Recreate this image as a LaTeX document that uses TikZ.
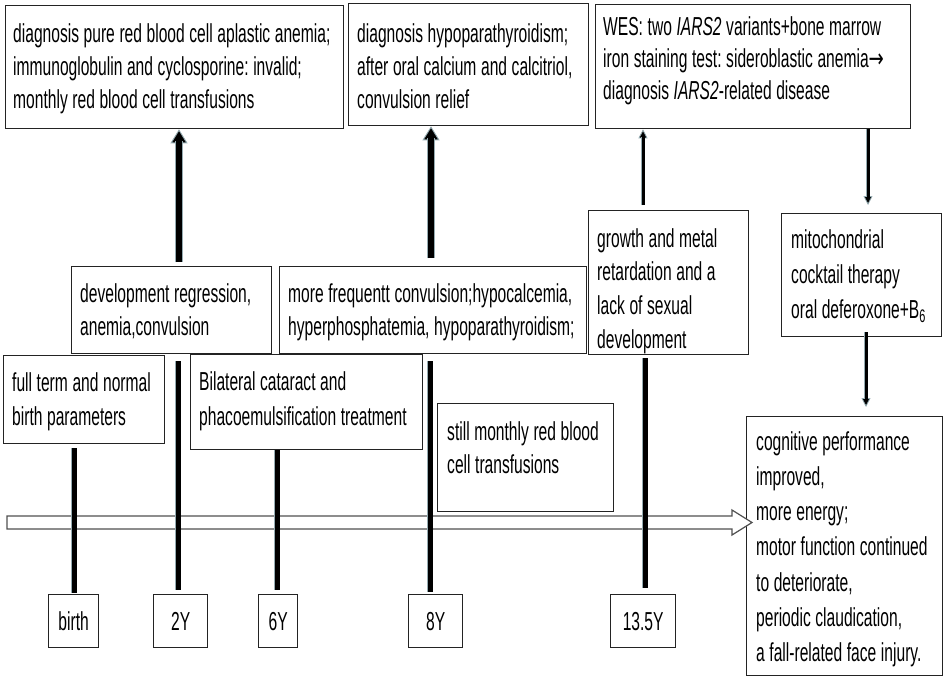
\documentclass[tikz,border=0pt]{standalone}
\usepackage{fontspec}
\setmainfont[FakeStretch=0.6]{Liberation Sans}
\newfontfamily\arrowfont[FakeStretch=0.7]{DejaVu Sans}
\newcommand\bodyfont[1]{\fontsize{26}{#1}\selectfont}
\newcommand\tightsp{\frenchspacing\spaceskip=4.6pt plus 1pt minus 0.5pt\xspaceskip=4.6pt plus 1pt minus 0.5pt\relax}
\usetikzlibrary{arrows.meta}
\definecolor{fringe}{RGB}{150,172,178}
\definecolor{edge}{RGB}{35,35,35}
\definecolor{tline}{RGB}{80,80,80}
\begin{document}
\begin{tikzpicture}[x=1pt,y=-1pt,
  box/.style={draw=edge, line width=1.3pt, inner sep=0pt, anchor=north west},
  yearbox/.style={draw=edge, line width=1.3pt, inner sep=0pt, anchor=north west,
    minimum height=53pt, font=\bodyfont{30pt}},
  txt/.style={anchor=base west, inner sep=0pt, text width=420pt, align=left,
    font=\bodyfont{#1}, execute at begin node=\tightsp},
  txt/.default=33pt,
  bigtip/.style={draw=fringe, line width=0.9pt, -{Triangle[width=17pt,length=14pt,fill=black]}},
  bigshaft/.style={draw=fringe, double=black, double distance=6pt, line width=0.9pt},
  smalltip/.style={draw=fringe, line width=0.8pt, -{Triangle[width=9pt,length=9pt,fill=black]}},
  smallshaft/.style={draw=fringe, double=black, double distance=3pt, line width=0.9pt},
  bar/.style={draw=fringe, double=black, double distance=5pt, line width=0.9pt}]
\useasboundingbox (0,0) rectangle (945,678);

% boxes
\node[box, minimum width=338pt, minimum height=123pt] (A) at (5,5) {};
\node[box, minimum width=240pt, minimum height=122pt] (B) at (348,3) {};
\node[box, minimum width=315pt, minimum height=124pt] (C) at (595,4) {};
\node[box, minimum width=200pt, minimum height=87pt] (D) at (71,266) {};
\node[box, minimum width=307pt, minimum height=87pt] (E) at (279,266) {};
\node[box, minimum width=160pt, minimum height=144pt] (F) at (588,210) {};
\node[box, minimum width=160pt, minimum height=123pt] (G) at (781,213) {};
\node[box, minimum width=161pt, minimum height=88pt] (H) at (3,355) {};
\node[box, minimum width=232pt, minimum height=95pt] (I) at (190,354) {};
\node[box, minimum width=176pt, minimum height=108pt] (J) at (437,403) {};
\node[box, minimum width=196pt, minimum height=259pt] (K) at (746,416) {};

% texts
\node[txt] (At) at (13,42) {\tightsp diagnosis pure red blood cell aplastic anemia;\\immunoglobulin and cyclosporine: invalid;\\monthly red blood cell transfusions};
\node[txt] (Bt) at (357,42) {\tightsp diagnosis hypoparathyroidism;\\after oral calcium and calcitriol,\\convulsion relief};
\node[txt=32pt] (Ct) at (603,35) {\tightsp WES: two \textit{IARS2} variants+bone marrow\\iron staining test: sideroblastic anemia{\arrowfont →}\\diagnosis \textit{IARS2}-related disease};
\node[txt] (Dt) at (80,302) {\tightsp development regression,\\anemia,convulsion};
\node[txt] (Et) at (288,302) {\tightsp more frequentt convulsion;hypocalcemia,\\hyperphosphatemia, hypoparathyroidism;};
\node[txt=33.7pt] (Ft) at (597,247) {\tightsp growth and metal\\retardation and a\\lack of sexual\\development};
\node[txt=35pt] (Gt) at (791,248) {\tightsp mitochondrial\\cocktail therapy\\oral deferoxone+B\textsubscript{6}};
\node[txt=34pt] (Ht) at (12,391) {\tightsp full term and normal\\birth parameters};
\node[txt=35pt] (It) at (199,390) {\tightsp Bilateral cataract and\\phacoemulsification treatment};
\node[txt] (Jt) at (447,440) {\tightsp still monthly red blood\\cell transfusions};
\node[txt=35.3pt] (Kt) at (756,450) {\tightsp cognitive performance\\improved,\\more energy;\\motor function continued\\to deteriorate,\\periodic claudication,\\a fall-related face injury.};

% year boxes
\node[yearbox, minimum width=50pt] (yb) at (48,594) {birth};
\node[yearbox, minimum width=54pt] (y2) at (153,594) {2Y};
\node[yearbox, minimum width=39pt] (y6) at (258,594) {6Y};
\node[yearbox, minimum width=54pt] (y8) at (408,594) {8Y};
\node[yearbox, minimum width=65pt] (y13) at (610,594) {13.5Y};

% column coordinates
\coordinate (cA) at (179,0);
\coordinate (cB) at (431,0);
\coordinate (cC) at (643,0);
\coordinate (cG) at (868,0);
\coordinate (cK) at (866,0);
\coordinate (xb) at (74,0);
\coordinate (x2) at (178,0);
\coordinate (x6) at (277,0);
\coordinate (x8) at (430,0);
\coordinate (x13) at (645,0);

% timeline arrow
\coordinate (t0) at (7,516);
\draw[fill=white, draw=tline, line width=1.2pt]
  (t0) -- (732,516) -- (732,510) -- (752,522.5) -- (732,535) -- (732,529) -- (7,529) -- cycle;

% upward thick arrows
\draw[bigtip, shorten <=4pt] (D.north -| cA) -- (A.south -| cA);
\draw[bigshaft, shorten <=4pt, shorten >=12pt] (D.north -| cA) -- (A.south -| cA);
\draw[bigtip, shorten <=8pt] (E.north -| cB) -- (B.south -| cB);
\draw[bigshaft, shorten <=8pt, shorten >=12pt] (E.north -| cB) -- (B.south -| cB);

% thin arrows
\draw[smalltip, shorten <=5pt] (F.north -| cC) -- (C.south -| cC);
\draw[smallshaft, shorten <=5pt, shorten >=8pt] (F.north -| cC) -- (C.south -| cC);
\draw[smalltip, shorten >=8pt] (C.south -| cG) -- (G.north -| cG);
\draw[smallshaft, shorten >=16pt] (C.south -| cG) -- (G.north -| cG);
\draw[smalltip, shorten <=-5pt, shorten >=9pt] (G.south -| cK) -- (K.north -| cK);
\draw[smallshaft, shorten <=-5pt, shorten >=17pt] (G.south -| cK) -- (K.north -| cK);

% bars to years
\draw[bar, shorten <=4pt, shorten >=1pt] (H.south -| xb) -- (yb.north -| xb);
\draw[bar, shorten <=7pt, shorten >=4pt] (D.south -| x2) -- (y2.north -| x2);
\draw[bar, shorten >=4pt] (I.south -| x6) -- (y6.north -| x6);
\draw[bar, shorten <=7pt, shorten >=2pt] (E.south -| x8) -- (y8.north -| x8);
\draw[bar, shorten <=3pt, shorten >=6pt] (F.south -| x13) -- (y13.north -| x13);
\end{tikzpicture}
\end{document}
